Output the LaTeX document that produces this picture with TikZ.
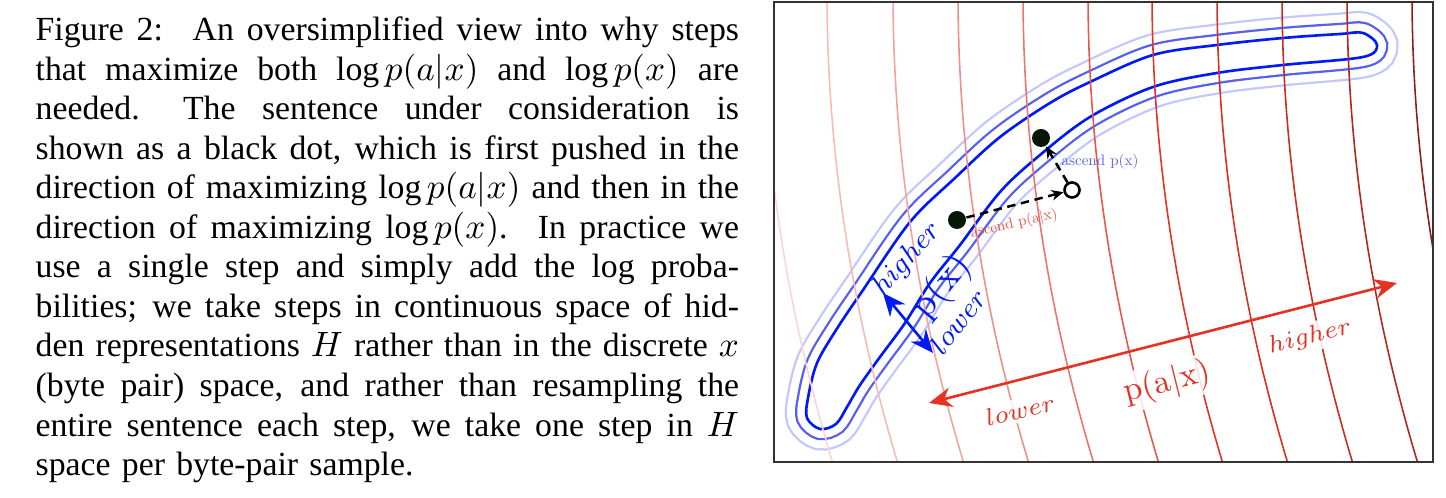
\documentclass[tikz,border=0pt]{standalone}
\usepackage{fontspec}
\newfontfamily\capfont{Liberation Serif}
\usetikzlibrary{arrows.meta}

\definecolor{pxblue}{RGB}{0,25,245}
\definecolor{pxmid}{RGB}{85,95,240}
\definecolor{pxpale}{RGB}{195,200,250}
\definecolor{paxred}{RGB}{228,50,36}
\definecolor{dotgreen}{RGB}{8,22,8}

\newcommand{\capline}[1]{\leavevmode\hbox to 200pt{\spaceskip=0.25em plus 1em minus 0.06em\relax #1}}
\newcommand{\tinytext}[1]{\scalebox{0.43}{\fontsize{10}{12}\selectfont #1}}
\def\pxring{plot[smooth cycle, tension=0.55] coordinates {
  (808,398) (817,363) (838,327) (863,290) (910,222) (955,178) (1000,137)
  (1050,103) (1090,82) (1153,55) (1217,45) (1283,38) (1340,34) (1363,33)
  (1377,45)
  (1363,57) (1283,65) (1217,73) (1153,87) (1090,117) (1040,155) (1000,192)
  (960,245) (930,283) (905,323) (880,357) (860,385) (847,407)
  (836,424) (820,429) (807,418)}}

\tikzset{
  frame/.style={draw=black!80, line width=0.6pt},
  contour/.style={line width=0.45pt},
  redlabel/.style={text=paxred, fill=white, fill opacity=0.85, text opacity=1, inner sep=1pt},
  bluelabel/.style={text=pxblue, inner sep=0.5pt},
  dot/.style={circle, fill=dotgreen, inner sep=0pt, minimum size=0.18cm},
  hollow/.style={circle, draw=black, line width=0.75pt, fill=white, inner sep=0pt, minimum size=0.15cm},
  stepline/.style={dash pattern=on 2.4pt off 1.6pt, line width=0.7pt, -{Stealth[length=3.4pt,width=3pt]}},
}

\begin{document}
\begin{tikzpicture}[x=0.01cm, y=-0.01cm, >={Stealth[length=6.5pt,width=5.6pt]}]
  \useasboundingbox (0,0) rectangle (1446,498);

  % 1. 图注
  \node[anchor=north west, inner sep=0pt, text width=200pt, align=left,
        font=\capfont\fontsize{9.6}{11.25}\selectfont] (caption) at (35,16) {%
    \capline{Figure 2: \ An oversimplified view into why steps}\\
    \capline{that maximize both log\,$p(a|x)$ and log\,$p(x)$ are}\\
    \capline{needed. \ The sentence under consideration is}\\
    \capline{shown as a black dot, which is first pushed in the}\\
    \capline{direction of maximizing log\,$p(a|x)$ and then in the}\\
    \capline{direction of maximizing log\,$p(x)$. \ In practice we}\\
    \capline{use a single step and simply add the log proba-}\\
    \capline{bilities; we take steps in continuous space of hid-}\\
    \capline{den representations $H$ rather than in the discrete $x$}\\
    \capline{(byte pair) space, and rather than resampling the}\\
    \capline{entire sentence each step, we take one step in $H$}\\
    space per byte-pair sample.};

  % 2. p(x) 等高线
  \draw[pxpale, line width=12.2pt] \pxring;
  \draw[white, line width=10.9pt] \pxring;
  \draw[pxmid, line width=6.35pt] \pxring;
  \draw[white, line width=5.05pt] \pxring;
  \fill[white] \pxring;
  \draw[pxblue, line width=0.75pt] \pxring;

  % 3. p(a|x) 等高线
  \begin{scope}
    \clip (774,2) rectangle (1433,462);
    \foreach \xk/\tone in {762/paxred!20!white, 827/paxred!33!white, 893/paxred!45!white,
        958/paxred!55!white, 1023/paxred!68!white, 1088/paxred!82!white, 1152/paxred,
        1217/paxred!95!black, 1282/paxred!88!black, 1347/paxred!78!black, 1412/paxred!62!black}
      \draw[contour, \tone] plot[domain=-10:470, samples=25, variable=\yy]
        ({\xk+0.0043*\yy+0.000319*\yy*\yy}, \yy);
  \end{scope}

  % 4. 标注
  \node[redlabel, rotate=14, font=\fontsize{6.8}{8}\selectfont] (paxlow) at (1020,410) {$lower$};
  \node[redlabel, rotate=14, font=\fontsize{9.5}{11}\selectfont] (paxname) at (1167,383) {p(a|x)};
  \node[redlabel, rotate=14, font=\fontsize{6.8}{8}\selectfont] (paxhigh) at (1310,337) {$higher$};
  \node[bluelabel, rotate=48, font=\fontsize{7.7}{9}\selectfont] (pxhigh) at (907,259) {$higher$};
  \node[bluelabel, rotate=50, font=\fontsize{10.8}{12}\selectfont] (pxname) at (942,287) {p(x)};
  \node[bluelabel, rotate=52, font=\fontsize{8}{9}\selectfont] (pxlow) at (958,321) {$lower$};

  % 5. 梯度方向
  \coordinate (pxtop) at (883,293);
  \coordinate (pxbot) at (933,353);
  \coordinate (paxleft) at (929,403);
  \coordinate (paxright) at (1397,283);
  \draw[<->, pxblue, line width=0.75pt] (pxtop) -- (pxbot);
  \draw[<->, paxred, line width=0.75pt] (paxleft) -- (paxright);

  % 6. 句子的移动
  \node[dot] (start) at (957,220) {};
  \node[hollow] (pushed) at (1072,190) {};
  \node[dot] (final) at (1041,138) {};
  \draw[stepline] (start) -- (pushed);
  \draw[stepline] (pushed) -- (final);
  \node[text=paxred!85!white, rotate=13, inner sep=0pt] (ascpax) at (1014,224) {\tinytext{ascend p(a|x)}};
  \node[text=pxmid, inner sep=0pt] (ascpx) at (1100,162) {\tinytext{ascend p(x)}};

  % 7. 边框
  \draw[frame] (774,2) rectangle (1433,462);
\end{tikzpicture}
\end{document}
